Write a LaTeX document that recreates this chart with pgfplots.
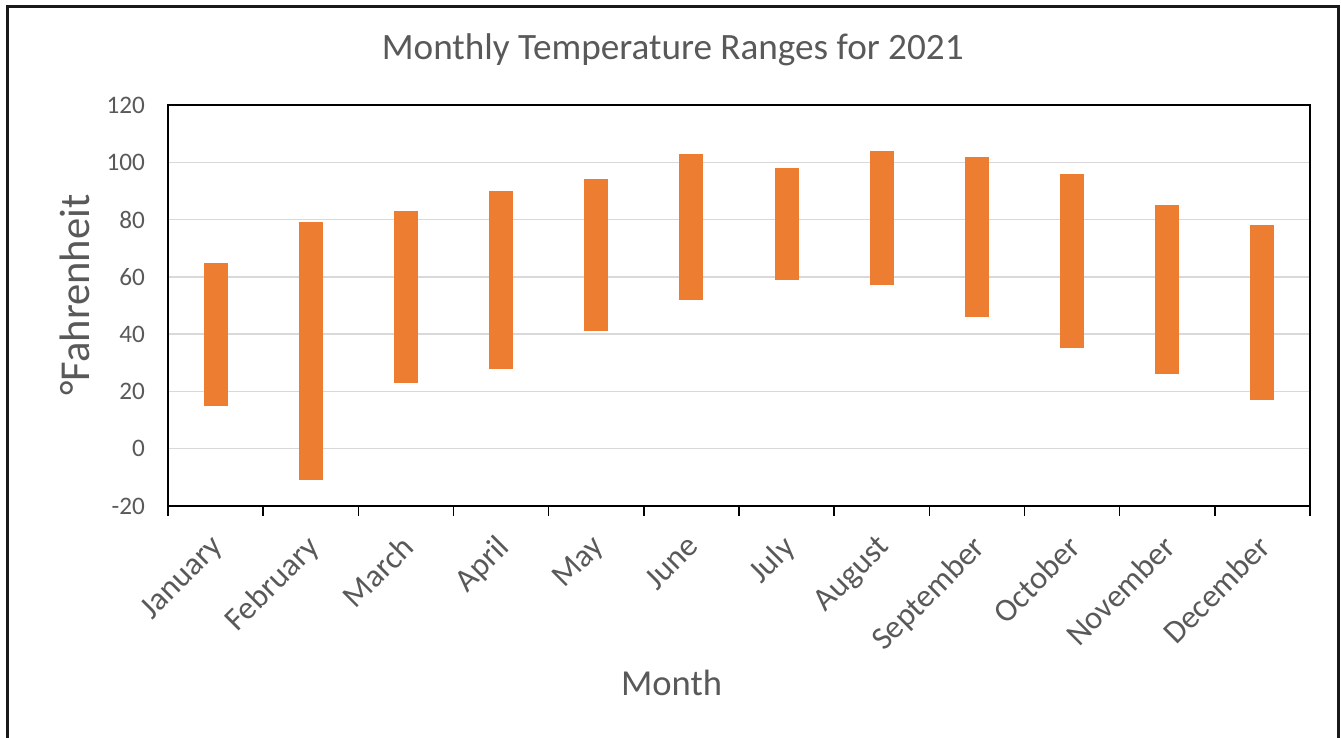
\documentclass[border=0pt]{standalone}
\usepackage{pgfplots}
\pgfplotsset{compat=1.18}
\usepackage{pgfplotstable}
\usepackage{fontspec}
\setmainfont{Carlito}
\definecolor{barorange}{HTML}{ED7D31}
\definecolor{txtgray}{HTML}{595959}
\definecolor{gridgray}{HTML}{D9D9D9}
\pgfplotstableread{
x low diff high
0 15 50 65
1 -11 90 79
2 23 60 83
3 28 62 90
4 41 53 94
5 52 51 103
6 59 39 98
7 57 47 104
8 46 56 102
9 35 61 96
10 26 59 85
11 17 61 78
}\temps
\begin{document}
\begin{tikzpicture}
\path[use as bounding box] (0,0) rectangle (670.5pt,369pt);
\clip (0,0) rectangle (670.5pt,369pt);
\draw[line width=1.1pt, black!90] (3.75pt,-10pt) rectangle (669.25pt,365.75pt);
\begin{axis}[
  at={(84pt,116pt)}, anchor=south west,
  scale only axis, width=571pt, height=200.5pt,
  xmin=-0.5, xmax=11.5, ymin=-20, ymax=120,
  ytick={-20,0,...,120},
  xtick={0,...,11},
  xticklabels={January,February,March,April,May,June,July,August,September,October,November,December},
  minor xtick={-0.5,0.5,...,11.5},
  xtick pos=bottom, ytick pos=left,
  tick align=outside,
  major tick length=0pt,
  minor tick length=5pt,
  minor tick style={black, line width=0.8pt},
  ytick style={draw=none},
  ymajorgrids,
  grid style={gridgray, line width=0.75pt},
  axis line style={black, line width=0.9pt},
  /pgf/number format/assume math mode=true,
  tick label style={text=txtgray},
  yticklabel style={font=\fontsize{12.6}{15}\selectfont, xshift=-8pt},
  xticklabel style={font=\fontsize{16.2}{20}\selectfont, xshift=-3pt, yshift=-13.5pt, rotate=45, anchor=north east, inner sep=0pt},
  title={Monthly Temperature Ranges for 2021},
  title style={at={(axis description cs:0.442,1.137)}, anchor=center, yshift=-6pt, font=\fontsize{18.6}{22}\selectfont, text=txtgray},
  xlabel={Month},
  xlabel style={at={(axis description cs:0.441,-0.441)}, anchor=center, font=\fontsize{18.3}{22}\selectfont, text=txtgray},
  ylabel={°Fahrenheit},
  ylabel style={at={(axis description cs:-0.0814,0.526)}, anchor=center, font=\fontsize{21.3}{25}\selectfont, text=txtgray},
]
\addplot[draw=none, mark=none,
  error bars/.cd, y dir=plus, y explicit, error mark=none,
  error bar style={draw=barorange, line width=12pt, line cap=butt}]
  table[x=x, y=low, y error plus=diff] {\temps};
\end{axis}
\end{tikzpicture}
\end{document}
